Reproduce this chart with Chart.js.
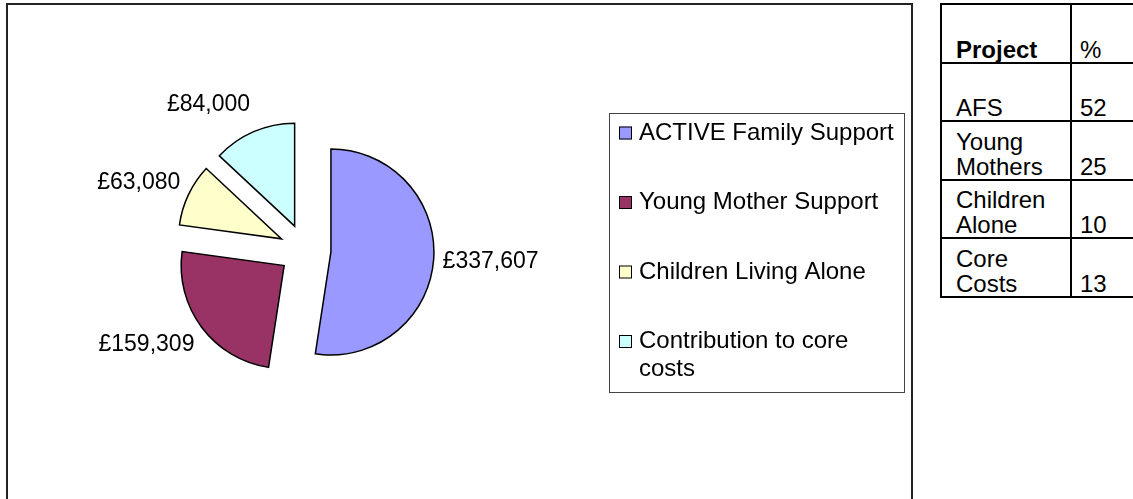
<!DOCTYPE html>
<html>
<head>
<meta charset="utf-8">
<title>Project funding</title>
<script src="https://cdn.jsdelivr.net/npm/chart.js@4.4.1/dist/chart.umd.min.js"></script>
<style>
    body { margin: 0; background: #fff; font-family: 'Liberation Sans', Arial, sans-serif; overflow: hidden; }
    #frame { position: absolute; left: 6px; top: 3px; width: 903px; height: 520px; border: 2px solid #222; border-bottom: none; }
    #share { position: absolute; left: 940px; top: 3px; border-collapse: separate; border-spacing: 0; table-layout: fixed; width: 240px;
             border-top: 2px solid #000; border-left: 2px solid #000; font-size: 24px; line-height: 25px; color: #000; }
    #share td { height: 56.5px; padding: 0; vertical-align: bottom; border-right: 2px solid #000; border-bottom: 2px solid #000; }
    #share td.name { width: 114px; padding-left: 14px; }
    #share td.pct { padding-left: 8px; }
    #pie { position: absolute; left: 0; top: 0; }
</style>
</head>
<body>
<div id="frame"></div>
<table id="share"></table>
<canvas id="pie" width="1133" height="499"></canvas>
<script>
const categories = ['ACTIVE Family Support', 'Young Mother Support', 'Children Living Alone', 'Contribution to core costs'];
const amounts = [337607, 159309, 63080, 84000];
const sliceColours = ['#9999FF', '#993366', '#FFFFCC', '#CCFFFF'];

const tableProjects = ['AFS', 'Young Mothers', 'Children Alone', 'Core Costs'];
const tablePercents = [52, 25, 10, 13];

const FONT = "'Liberation Sans', Arial, sans-serif";
const EXPLODE = 26;

// table to the right of the chart
const table = document.getElementById('share');
table.innerHTML = '<tr><td class="name"><b>Project</b></td><td class="pct">%</td></tr>' +
    tableProjects.map((p, i) =>
        '<tr><td class="name">' + p.split(' ').join('<br>') + '</td><td class="pct">' + tablePercents[i] + '</td></tr>'
    ).join('');

function money(v) {
    return '£' + String(v).replace(/\B(?=(\d{3})+(?!\d))/g, ',');
}

// pull every slice out along its bisector
const explodePlugin = {
    id: 'explode',
    afterDatasetUpdate(chart, args) {
        args.meta.data.forEach(arc => {
            const mid = (arc.startAngle + arc.endAngle) / 2;
            arc.x += Math.cos(mid) * EXPLODE;
            arc.y += Math.sin(mid) * EXPLODE;
        });
    }
};

const valueLabels = {
    id: 'valueLabels',
    afterDatasetsDraw(chart) {
        const ctx = chart.ctx;
        ctx.save();
        ctx.font = '23px ' + FONT;
        ctx.fillStyle = '#000';
        ctx.textBaseline = 'middle';
        chart.getDatasetMeta(0).data.forEach((arc, i) => {
            const mid = (arc.startAngle + arc.endAngle) / 2;
            const r = arc.outerRadius + 9;
            const x = arc.x + Math.cos(mid) * r;
            const y = arc.y + Math.sin(mid) * (r + 20);
            ctx.textAlign = Math.cos(mid) >= 0 ? 'left' : 'right';
            ctx.fillText(money(chart.data.datasets[0].data[i]), x, y);
        });
        ctx.restore();
    }
};

// boxed legend like the spreadsheet one
const boxLegend = {
    id: 'boxLegend',
    afterDraw(chart) {
        const ctx = chart.ctx;
        const box = { left: 609, top: 113, width: 295, height: 279 };
        const step = 69.5, firstY = 133, lineH = 28, mark = 13, wrapAt = 262;
        ctx.save();
        ctx.strokeStyle = '#444';
        ctx.lineWidth = 1;
        ctx.strokeRect(box.left + 0.5, box.top + 0.5, box.width, box.height);
        ctx.font = '24px ' + FONT;
        ctx.textBaseline = 'middle';
        ctx.textAlign = 'left';
        chart.data.labels.forEach((label, i) => {
            const y = firstY + i * step;
            ctx.fillStyle = chart.data.datasets[0].backgroundColor[i];
            ctx.fillRect(box.left + 10, y - mark / 2, mark, mark);
            ctx.strokeStyle = '#000';
            ctx.strokeRect(box.left + 10.5, y - mark / 2 + 0.5, mark - 1, mark - 1);
            // wrap words
            const lines = [];
            let cur = '';
            label.split(' ').forEach(w => {
                const t = cur ? cur + ' ' + w : w;
                if (ctx.measureText(t).width > wrapAt && cur) { lines.push(cur); cur = w; } else { cur = t; }
            });
            lines.push(cur);
            ctx.fillStyle = '#000';
            lines.forEach((ln, k) => ctx.fillText(ln, box.left + 30, y + k * lineH));
        });
        ctx.restore();
    }
};

new Chart(document.getElementById('pie'), {
    type: 'pie',
    data: {
        labels: categories,
        datasets: [{
            data: amounts,
            backgroundColor: sliceColours,
            borderColor: '#000',
            borderWidth: 1.5,
            borderJoinStyle: 'miter',
            radius: 103
        }]
    },
    options: {
        responsive: false,
        animation: false,
        events: [],
        layout: { padding: { left: 0, right: 523, top: 1, bottom: 0 } },
        plugins: {
            legend: { display: false },
            tooltip: { enabled: false }
        }
    },
    plugins: [explodePlugin, valueLabels, boxLegend]
});
</script>
</body>
</html>
